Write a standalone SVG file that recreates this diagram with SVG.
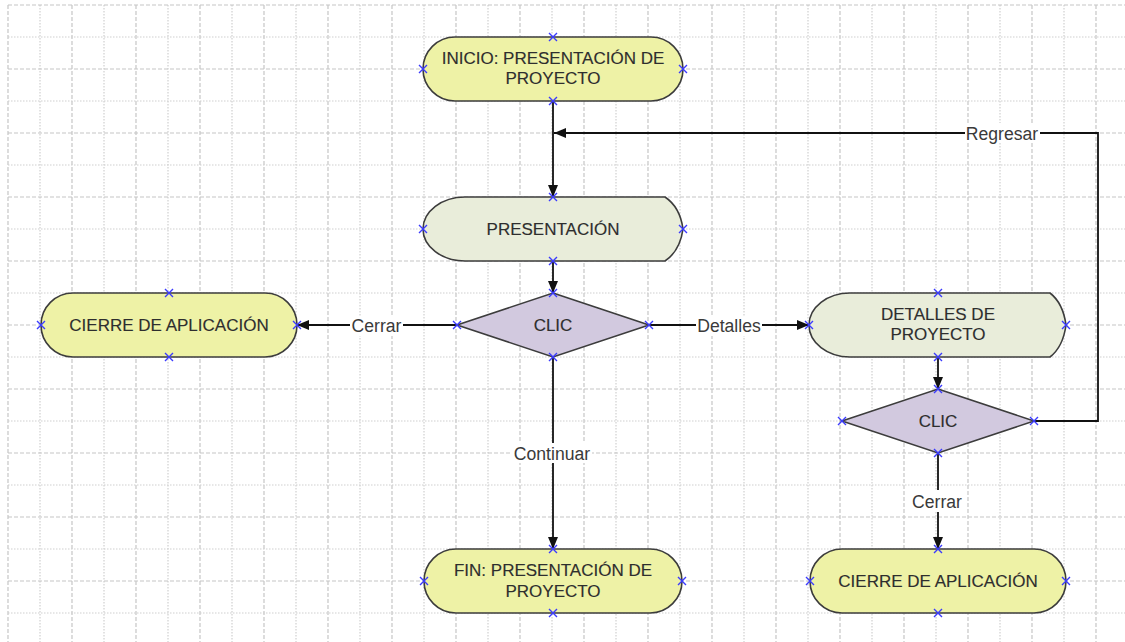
<svg xmlns="http://www.w3.org/2000/svg" width="1125" height="642" viewBox="0 0 1125 642">
  <defs>
    <marker id="arrow" markerUnits="userSpaceOnUse" markerWidth="12" markerHeight="10" refX="12" refY="5" orient="auto">
      <path d="M0,0 L12,5 L0,10 Z" fill="#111"/>
    </marker>
    <g id="pt">
      <path d="M-4,-4 L4,4 M-4,4 L4,-4" stroke="#3b3bff" stroke-width="1.4" fill="none"/>
    </g>
  </defs>
  <style>
    .gmaj { stroke: #c6c6c6; stroke-width: 1.2; stroke-dasharray: 4 2; fill: none; }
    .gmin { stroke: #cfcfcf; stroke-width: 1.2; stroke-dasharray: 1.5 1.5; fill: none; }
    .term { fill: #eef2a6; stroke: #3c3c3c; stroke-width: 1.6; }
    .disp { fill: #e9edda; stroke: #3c3c3c; stroke-width: 1.6; }
    .dec  { fill: #d2c9df; stroke: #3c3c3c; stroke-width: 1.6; }
    .txt  { font-family: "Liberation Sans", Arial, sans-serif; font-size: 17px; fill: #2e2e2e; stroke: #2e2e2e; stroke-width: 0.15; text-anchor: middle; }
    .lbl  { font-family: "Liberation Sans", Arial, sans-serif; font-size: 17.6px; fill: #3a3a3a; text-anchor: middle; }
    .conn { stroke: #111; stroke-width: 1.8; fill: none; }
    .lblbg { fill: #ffffff; }
  </style>

  <rect width="1125" height="642" fill="#ffffff"/>

  <!-- background grid: dashed major lines every 64px, dotted minor lines between -->
  <g id="grid">
    <path class="gmaj" d="M8 5V642M72 5V642M136 5V642M200 5V642M264 5V642M328 5V642M392 5V642M456 5V642M520 5V642M584 5V642M648 5V642M712 5V642M776 5V642M840 5V642M904 5V642M968 5V642M1032 5V642M1096 5V642"/>
    <path class="gmin" d="M40 5V642M104 5V642M168 5V642M232 5V642M296 5V642M360 5V642M424 5V642M488 5V642M552 5V642M616 5V642M680 5V642M744 5V642M808 5V642M872 5V642M936 5V642M1000 5V642M1064 5V642"/>
    <path class="gmaj" d="M8 5H1125M8 69H1125M8 133H1125M8 197H1125M8 261H1125M8 325H1125M8 389H1125M8 453H1125M8 517H1125M8 581H1125"/>
    <path class="gmin" d="M8 37H1125M8 101H1125M8 165H1125M8 229H1125M8 293H1125M8 357H1125M8 421H1125M8 485H1125M8 549H1125M8 613H1125"/>
  </g>

  <!-- connectors -->
  <g id="connectors">
    <path class="conn" d="M553,101 V197" marker-end="url(#arrow)"/>
    <path class="conn" d="M553,261 V293" marker-end="url(#arrow)"/>
    <path class="conn" d="M457,325 H297" marker-end="url(#arrow)"/>
    <path class="conn" d="M649,325 H809" marker-end="url(#arrow)"/>
    <path class="conn" d="M553,357 V549" marker-end="url(#arrow)"/>
    <path class="conn" d="M938,357 V389" marker-end="url(#arrow)"/>
    <path class="conn" d="M938,453 V549" marker-end="url(#arrow)"/>
    <path class="conn" d="M1034,421 H1098 V133 H554" stroke="#3a3a3a" marker-end="url(#arrow)"/>

    <rect class="lblbg" x="350" y="316" width="53" height="20"/>
    <text class="lbl" x="376.5" y="331.5">Cerrar</text>
    <rect class="lblbg" x="696" y="316" width="66" height="20"/>
    <text class="lbl" x="729" y="331.5">Detalles</text>
    <rect class="lblbg" x="512" y="443" width="80" height="20"/>
    <text class="lbl" x="552" y="459.5">Continuar</text>
    <rect class="lblbg" x="911" y="490" width="52" height="22"/>
    <text class="lbl" x="937" y="507.5">Cerrar</text>
    <rect class="lblbg" x="965" y="123" width="75" height="20"/>
    <text class="lbl" x="1002" y="139.5">Regresar</text>
  </g>

  <!-- start terminator -->
  <g id="inicio">
    <rect class="term" x="423" y="37" width="260" height="64" rx="32" ry="32"/>
    <text class="txt" x="553" y="64">INICIO: PRESENTACIÓN DE</text>
    <text class="txt" x="553" y="84">PROYECTO</text>
    <use href="#pt" x="553" y="37"/><use href="#pt" x="553" y="101"/>
    <use href="#pt" x="423" y="69"/><use href="#pt" x="683" y="69"/>
  </g>

  <!-- display: presentation -->
  <g id="presentacion">
    <path class="disp" d="M465,197 L665,197 Q680,207 683,229 Q680,251 665,261 L465,261 A42,32 0 0 1 423,229 A42,32 0 0 1 465,197 Z"/>
    <text class="txt" x="553" y="235">PRESENTACIÓN</text>
    <use href="#pt" x="553" y="197"/><use href="#pt" x="553" y="261"/>
    <use href="#pt" x="423" y="229"/><use href="#pt" x="683" y="229"/>
  </g>

  <!-- decision: main click -->
  <g id="clic1">
    <path class="dec" d="M553,293 L649,325 L553,357 L457,325 Z"/>
    <text class="txt" x="553" y="331">CLIC</text>
    <use href="#pt" x="553" y="293"/><use href="#pt" x="553" y="357"/>
    <use href="#pt" x="457" y="325"/><use href="#pt" x="649" y="325"/>
  </g>

  <!-- close application (left) -->
  <g id="cierre1">
    <rect class="term" x="41" y="293" width="256" height="64" rx="32" ry="32"/>
    <text class="txt" x="169" y="331">CIERRE DE APLICACIÓN</text>
    <use href="#pt" x="169" y="293"/><use href="#pt" x="169" y="357"/>
    <use href="#pt" x="41" y="325"/><use href="#pt" x="297" y="325"/>
  </g>

  <!-- display: project details -->
  <g id="detalles">
    <path class="disp" d="M850,293 L1050,293 Q1063,303 1066,325 Q1063,347 1050,357 L850,357 A41,32 0 0 1 809,325 A41,32 0 0 1 850,293 Z"/>
    <text class="txt" x="938" y="320">DETALLES DE</text>
    <text class="txt" x="938" y="340">PROYECTO</text>
    <use href="#pt" x="938" y="293"/><use href="#pt" x="938" y="357"/>
    <use href="#pt" x="809" y="325"/><use href="#pt" x="1066" y="325"/>
  </g>

  <!-- decision: details click -->
  <g id="clic2">
    <path class="dec" d="M938,389 L1034,421 L938,453 L842,421 Z"/>
    <text class="txt" x="938" y="427">CLIC</text>
    <use href="#pt" x="938" y="389"/><use href="#pt" x="938" y="453"/>
    <use href="#pt" x="842" y="421"/><use href="#pt" x="1034" y="421"/>
  </g>

  <!-- end terminator -->
  <g id="fin">
    <rect class="term" x="424" y="549" width="258" height="64" rx="32" ry="32"/>
    <text class="txt" x="553" y="576">FIN: PRESENTACIÓN DE</text>
    <text class="txt" x="553" y="597">PROYECTO</text>
    <use href="#pt" x="553" y="549"/><use href="#pt" x="553" y="613"/>
    <use href="#pt" x="424" y="581"/><use href="#pt" x="682" y="581"/>
  </g>

  <!-- close application (right) -->
  <g id="cierre2">
    <rect class="term" x="810" y="549" width="256" height="64" rx="32" ry="32"/>
    <text class="txt" x="938" y="587">CIERRE DE APLICACIÓN</text>
    <use href="#pt" x="938" y="549"/><use href="#pt" x="938" y="613"/>
    <use href="#pt" x="810" y="581"/><use href="#pt" x="1066" y="581"/>
  </g>
</svg>
